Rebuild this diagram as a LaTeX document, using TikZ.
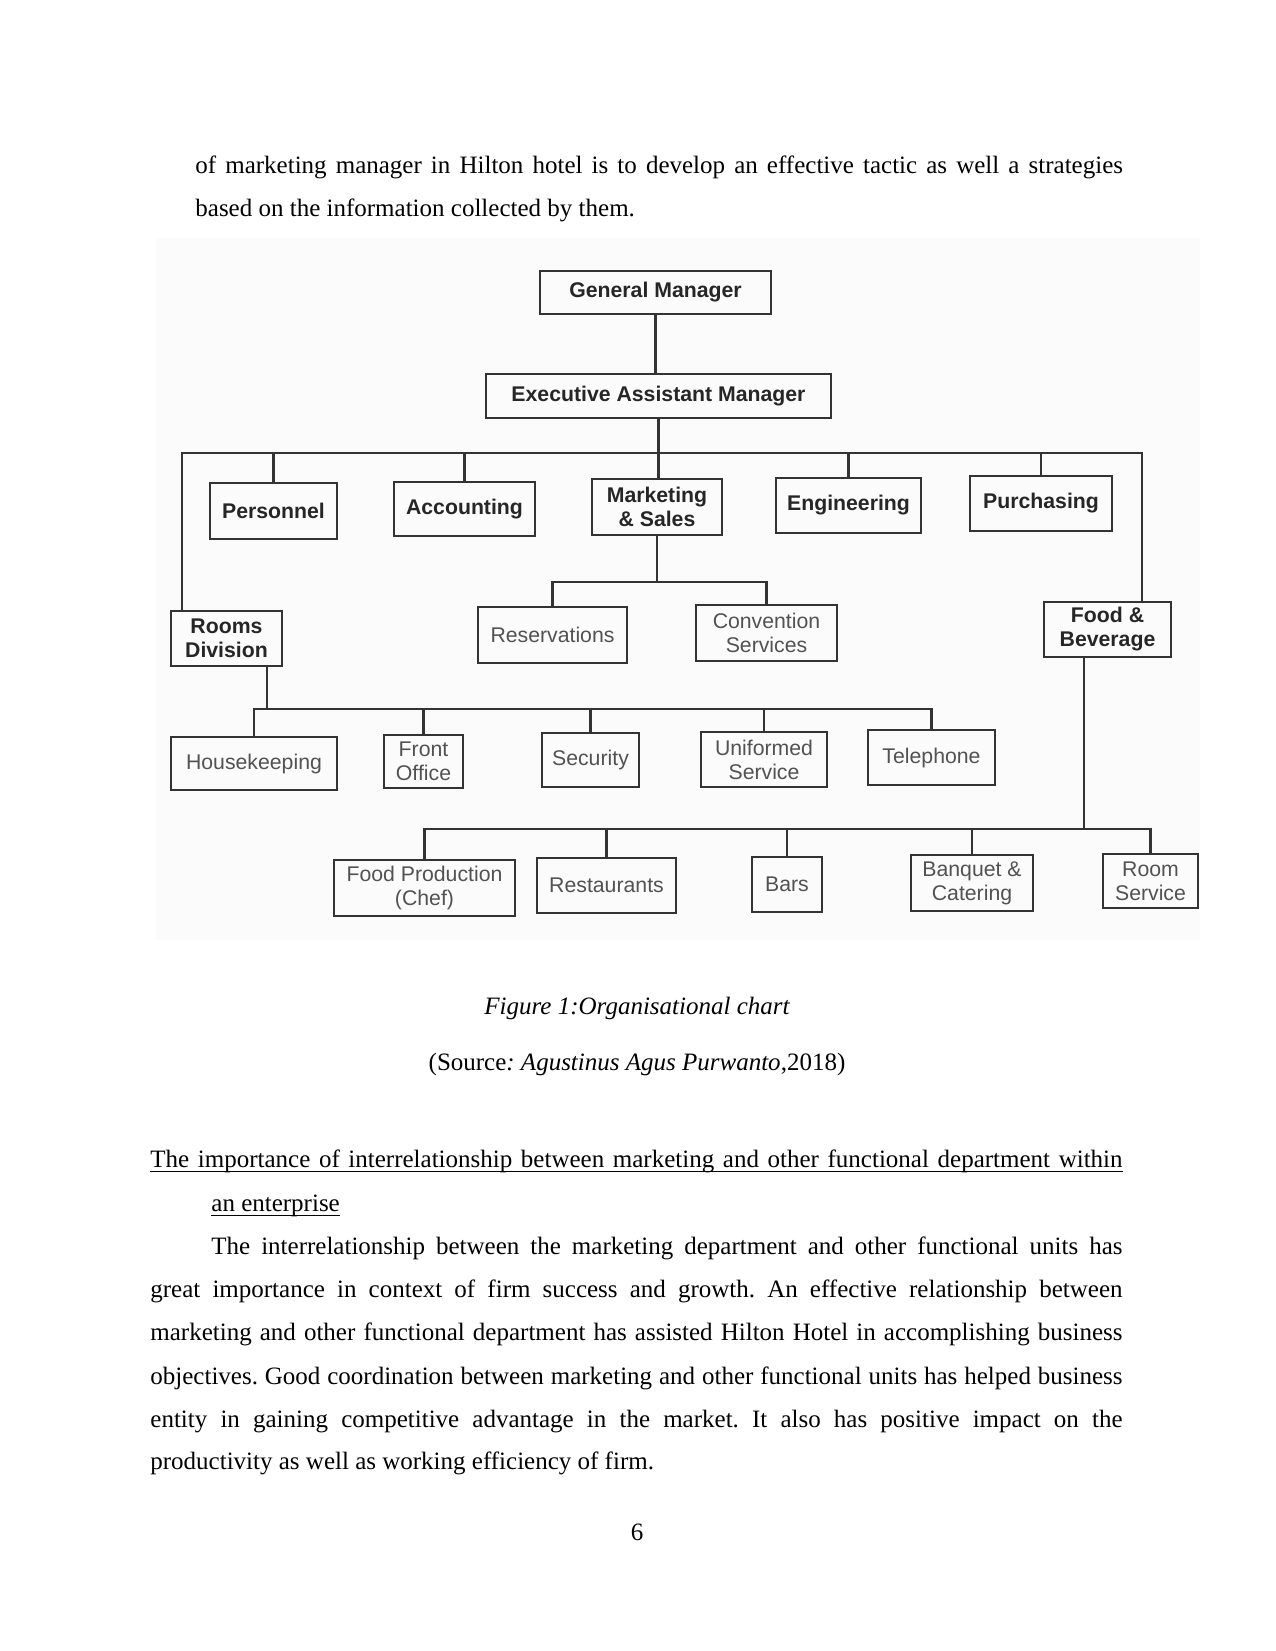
\documentclass[tikz,border=0pt]{standalone}
\usepackage{fontspec}
\setmainfont{Liberation Serif}
\newfontfamily\chartfont{Liberation Sans}
\frenchspacing
\begin{document}
\begin{tikzpicture}[x=0.48pt,y=-0.48pt,
  orgbox/.style={draw=black!80, line width=1.1pt, inner sep=0pt, align=center,
    font=\chartfont\fontsize{10.2}{11.5}\selectfont, text=black!68},
  hb/.style={orgbox, font=\chartfont\bfseries\fontsize{10.2}{11.5}\selectfont, text=black!85},
  link/.style={draw=black!80, line width=1.1pt},
  body/.style={anchor=base west, inner sep=0pt, font=\fontsize{12}{14}\selectfont\frenchspacing},
  mid/.style={anchor=base, inner sep=0pt, font=\fontsize{12}{14}\selectfont}]
\useasboundingbox (0,0) rectangle (1275,1651);
\fill[white] (0,0) rectangle (1275,1651);
\fill[black!1.5] (156,238) rectangle (1200,940);

% top paragraph
\node[body] (p1) at (195,174) {\makebox[445.2pt][s]{of marketing manager in Hilton hotel is to develop an effective tactic as well a strategies}};
\node[body] (p2) at (195,217) {based on the information collected by them.};

% chart nodes
\node[hb, minimum width=110.9pt, minimum height=20.6pt] (gm) at (655.5,292.5) {General Manager};
\node[hb, minimum width=165.6pt, minimum height=21.1pt] (eam) at (658.5,396) {Executive Assistant Manager};
\node[hb, minimum width=61pt, minimum height=26.9pt] (pers) at (273.5,511) {Personnel};
\node[hb, minimum width=67.7pt, minimum height=25.9pt] (acc) at (464.5,509) {Accounting};
\node[hb, minimum width=62.4pt, minimum height=26.9pt] (mkt) at (657,507) {Marketing\\\& Sales};
\node[hb, minimum width=69.6pt, minimum height=26.4pt] (eng) at (848.5,505.5) {Engineering};
\node[hb, minimum width=68.2pt, minimum height=26.4pt] (pur) at (1041,503.5) {Purchasing};
\node[hb, minimum width=53.3pt, minimum height=26.4pt] (rd) at (226.5,638.5) {Rooms\\Division};
\node[orgbox, minimum width=71.5pt, minimum height=26.9pt] (res) at (552.5,635) {Reservations};
\node[orgbox, minimum width=67.7pt, minimum height=26.9pt] (conv) at (766.5,633) {Convention\\Services};
\node[hb, minimum width=61pt, minimum height=26.4pt] (fb) at (1107.5,629.5) {Food \&\\Beverage};
\node[orgbox, minimum width=79.7pt, minimum height=25.4pt] (hk) at (254,763.5) {Housekeeping};
\node[orgbox, minimum width=37.9pt, minimum height=25.4pt] (fo) at (423.5,761.5) {Front\\Office};
\node[orgbox, minimum width=46.6pt, minimum height=25.9pt] (sec) at (590.5,760) {Security};
\node[orgbox, minimum width=60.5pt, minimum height=26.4pt] (uni) at (764,759.5) {Uniformed\\Service};
\node[orgbox, minimum width=61pt, minimum height=26.4pt] (tel) at (931.5,757.5) {Telephone};
\node[orgbox, minimum width=86.9pt, minimum height=26.9pt] (fp) at (424.5,888) {Food Production\\(Chef)};
\node[orgbox, minimum width=66.7pt, minimum height=26.4pt] (rest) at (606.5,885.5) {Restaurants};
\node[orgbox, minimum width=33.6pt, minimum height=26.4pt] (bars) at (787,884.5) {Bars};
\node[orgbox, minimum width=58.6pt, minimum height=26.9pt] (banq) at (972,883) {Banquet \&\\Catering};
\node[orgbox, minimum width=45.6pt, minimum height=25.9pt] (rs) at (1150.5,881) {Room\\Service};

% bus coordinates
\coordinate (bl) at (182,453);
\coordinate (br) at (1142,453);
\coordinate (mb) at (655,582);
\coordinate (rb) at (267,709);
\coordinate (fbb) at (1084,829);

% connectors
\draw[link] (gm.south) -- (gm.south |- eam.north);
\draw[link] (eam.south) -- (eam.south |- mkt.north);
\draw[link] (rd.north -| bl) -- (bl) -- (br) -- (fb.north -| br);
\foreach \n in {pers,acc,eng,pur} \draw[link] (\n.north) -- (\n.north |- bl);
\draw[link] (mkt.south) -- (mkt.south |- mb);
\draw[link] (res.north) -- (res.north |- mb) -- (conv.north |- mb) -- (conv.north);
\draw[link] (rd.south -| rb) -- (rb);
\draw[link] (hk.north) -- (hk.north |- rb) -- (tel.north |- rb) -- (tel.north);
\foreach \n in {fo,sec,uni} \draw[link] (\n.north) -- (\n.north |- rb);
\draw[link] (fb.south -| fbb) -- (fbb);
\draw[link] (fp.north) -- (fp.north |- fbb) -- (rs.north |- fbb) -- (rs.north);
\foreach \n in {rest,bars,banq} \draw[link] (\n.north) -- (\n.north |- fbb);

% caption
\node[mid] (cap) at (637,1014) {\itshape Figure 1:Organisational chart};
\node[mid] (src) at (637,1070) {(Source\textit{: Agustinus Agus Purwanto},2018)};

% heading
\node[body] (h1) at (150,1167) {\makebox[466.6pt][s]{The importance of interrelationship between marketing and other functional department within}};
\node[body] (h2) at (211,1211) {an enterprise};
\draw[line width=0.6pt] ([yshift=-2.2pt]h1.base west) -- ([yshift=-2.2pt]h1.base east);
\draw[line width=0.6pt] ([yshift=-2.2pt]h2.base west) -- ([yshift=-2.2pt]h2.base east);

% body paragraph
\node[body] (b1) at (211,1254) {\makebox[437.3pt][s]{The interrelationship between the marketing department and other functional units has}};
\node[body] (b2) at (150,1297) {\makebox[466.6pt][s]{great importance in context of firm success and growth. An effective relationship between}};
\node[body] (b3) at (150,1340) {\makebox[466.6pt][s]{marketing and other functional department has assisted Hilton Hotel in accomplishing business}};
\node[body] (b4) at (150,1384) {\makebox[466.6pt][s]{objectives. Good coordination between marketing and other functional units has helped business}};
\node[body] (b5) at (150,1427) {\makebox[466.6pt][s]{entity in gaining competitive advantage in the market. It also has positive impact on the}};
\node[body] (b6) at (150,1469) {productivity as well as working efficiency of firm.};

\node[mid] (pg) at (637,1540) {6};
\end{tikzpicture}
\end{document}
